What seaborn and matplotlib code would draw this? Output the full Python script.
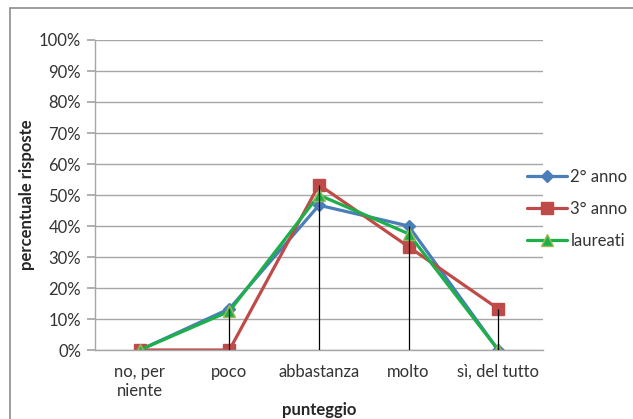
import matplotlib
matplotlib.use("Agg")
import matplotlib.pyplot as plt
import seaborn as sns
import pandas as pd
import numpy as np
from matplotlib.lines import Line2D

categories = ["no, per\nniente", "poco", "abbastanza", "molto", "sì, del tutto"]
series_names = ["2° anno", "3° anno", "laureati"]
anno2 = [0.0, 13.3, 46.7, 40.0, 0.0]
anno3 = [0.0, 0.0, 53.3, 33.3, 13.3]
laureati = [0.0, 12.5, 50.0, 37.5, 0.0]
yticks = [0, 10, 20, 30, 40, 50, 60, 70, 80, 90, 100]

rows = []
for name, vals in zip(series_names, [anno2, anno3, laureati]):
    for i, v in enumerate(vals):
        rows.append({"x": i, "val": v, "serie": name})
df = pd.DataFrame(rows)

sns.set_theme(style="white")
plt.rcParams["font.family"] = ["Lato", "DejaVu Sans"]

fig = plt.figure(figsize=(6.33, 4.19), dpi=100)
ax = fig.add_axes([95/633, 1-350/419, 448/633, 310/419])

colors = {"2° anno": "#4A7EBB", "3° anno": "#BE4B48", "laureati": "#1DB04A"}
markers = {"2° anno": "D", "3° anno": "s", "laureati": "^"}
msize = {"2° anno": 6.5, "3° anno": 9, "laureati": 8.5}
medge = {"2° anno": "#4A7EBB", "3° anno": "#BE4B48", "laureati": "#9BBB59"}

for name in series_names:
    sub = df[df["serie"] == name]
    sns.lineplot(data=sub, x="x", y="val", ax=ax, color=colors[name], linewidth=2.3,
                 marker=markers[name], markersize=msize[name],
                 markerfacecolor=colors[name], markeredgecolor=medge[name],
                 markeredgewidth=1, label=name)

# drop lines
maxv = df.groupby("x")["val"].max()
ax.vlines(maxv.index, 0, maxv.values, colors="black", linewidth=0.9, zorder=5)

ax.set_xlim(-0.5, 4.5)
ax.set_ylim(0, 100)
ax.set_yticks(yticks)
ax.set_yticklabels([f"{t}%" for t in yticks], fontsize=12, color="#333333")
ax.set_xticks(range(5))
ax.set_xticklabels(categories, fontsize=12, color="#333333", linespacing=1.25)
ax.yaxis.grid(True, color="#A6A6A6", linewidth=1)
ax.set_axisbelow(True)
for s in ["top", "right"]:
    ax.spines[s].set_visible(False)
for s in ["left", "bottom"]:
    ax.spines[s].set_color("#A6A6A6")
    ax.spines[s].set_linewidth(1)
ax.tick_params(axis="y", length=6, color="#A6A6A6", left=True, pad=4)
ax.tick_params(axis="x", length=0, pad=10)

ax.set_xlabel("punteggio", fontsize=12, fontweight="bold", labelpad=2)
ax.set_ylabel("percentuale risposte", fontsize=12, fontweight="bold", labelpad=3)

leg = ax.legend(loc="upper left", bbox_to_anchor=(527/633, 1-169/419),
                bbox_transform=fig.transFigure, frameon=False, borderpad=0, borderaxespad=0,
                fontsize=12, handlelength=2.4, handletextpad=0.2, labelspacing=0.95)
for t in leg.get_texts():
    t.set_color("#333333")

# outer chart border (top and left visible, continues past right/bottom)
fig.add_artist(Line2D([10/633, 10/633], [0, 1-8/419], transform=fig.transFigure,
                      color="#8C8C8C", linewidth=1.2))
fig.add_artist(Line2D([10/633, 1], [1-8/419, 1-8/419], transform=fig.transFigure,
                      color="#8C8C8C", linewidth=1.2))

fig.savefig("out.png", dpi=100)
